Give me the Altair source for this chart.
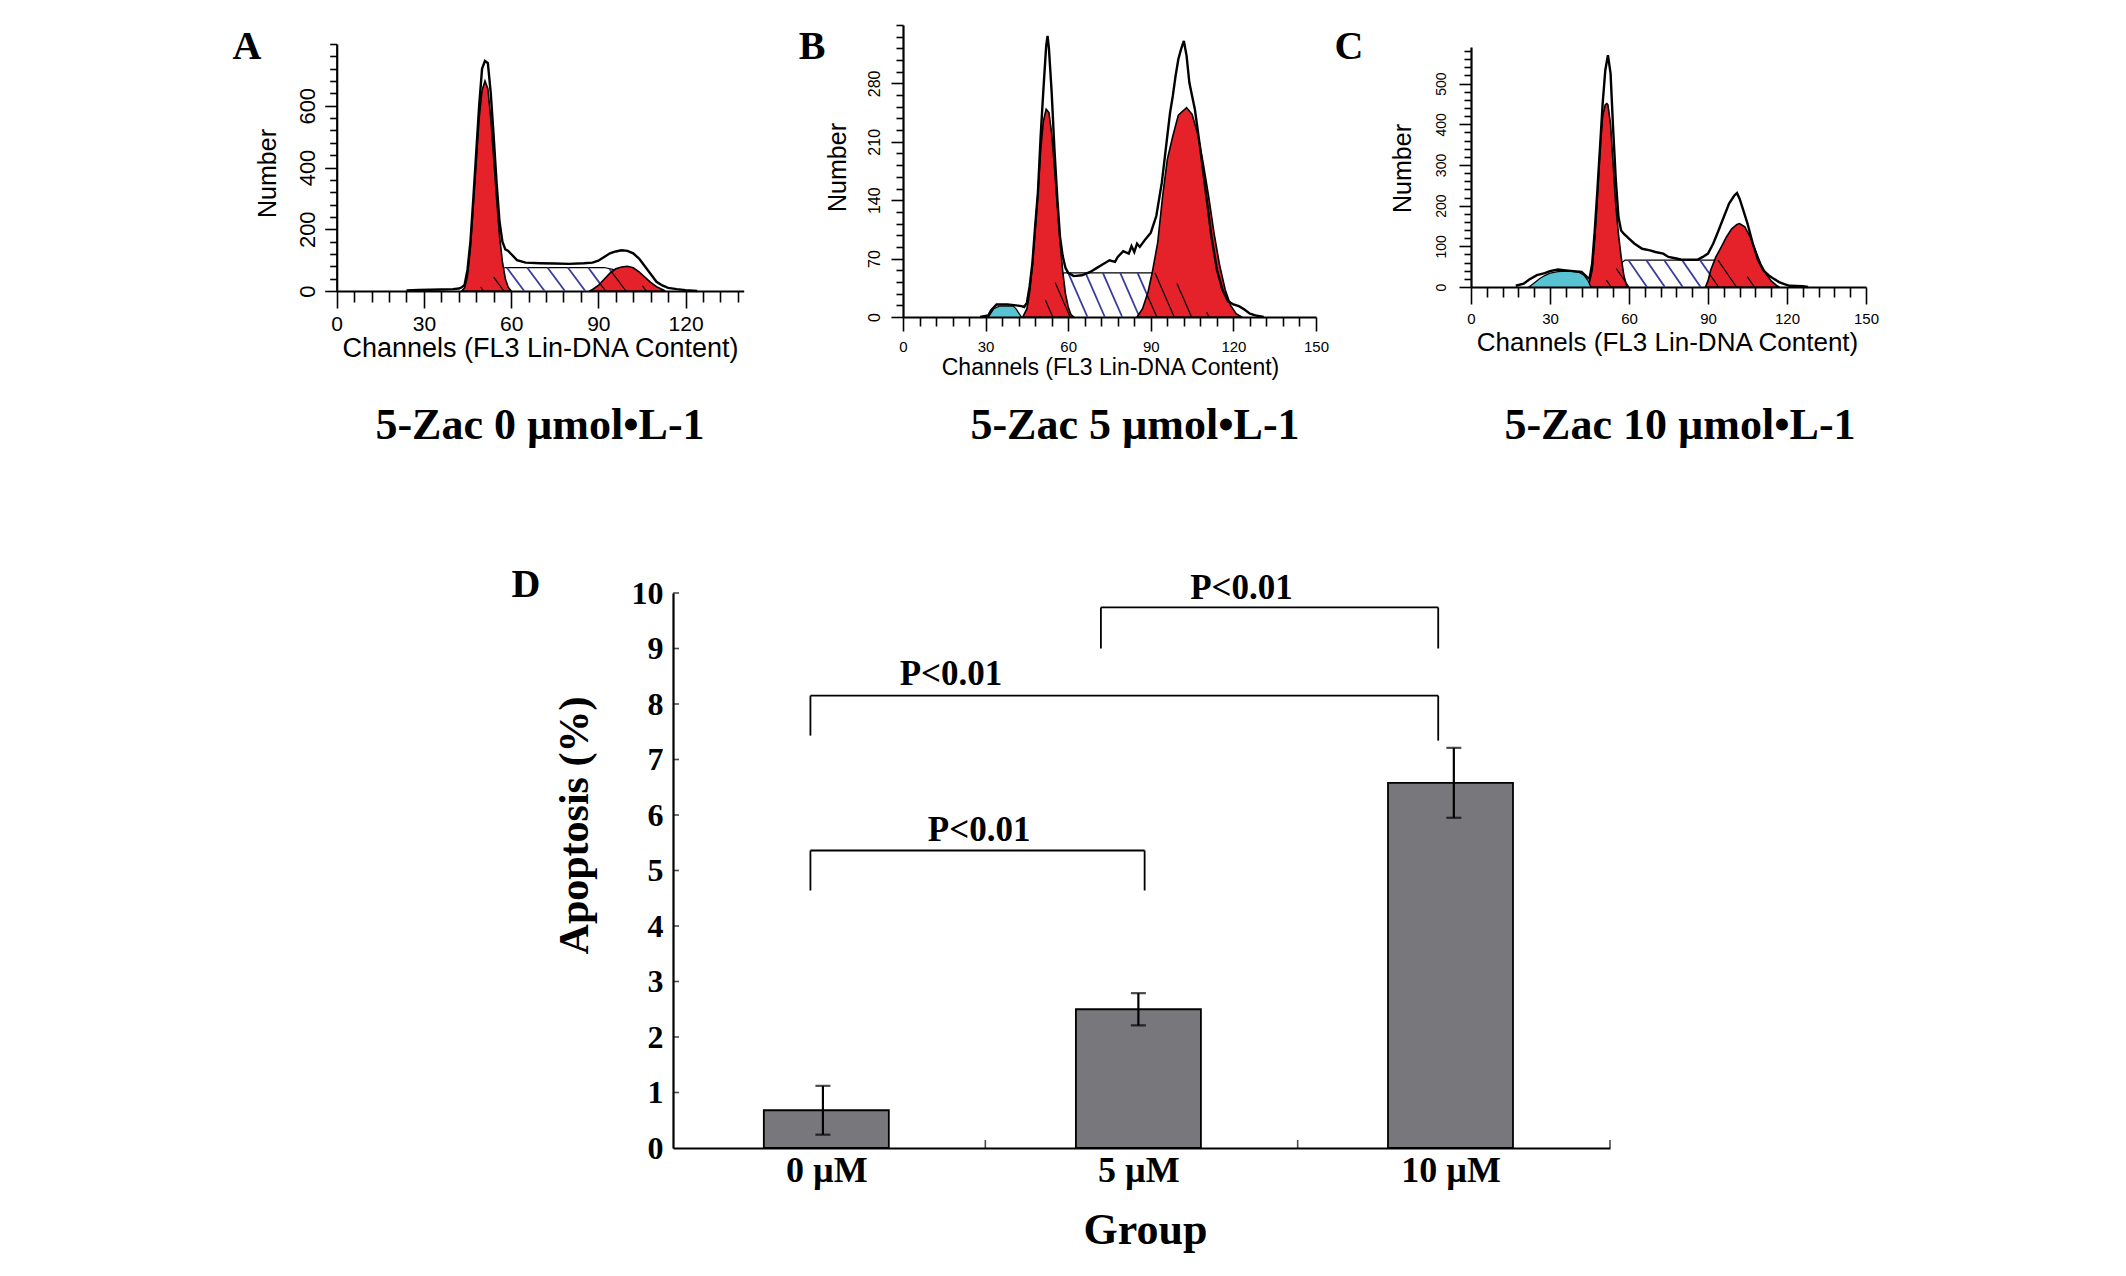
import json
import altair as alt
import pandas as pd

# ---------------- Panel A (5-Zac 0) ----------------
a_out_ch = [24, 28, 32, 36, 40, 42, 43, 44, 45, 46, 47, 48, 49, 50, 51, 52, 53, 54, 55, 56, 57, 58, 59, 60, 62, 65,
            70, 75, 80, 85, 88, 90, 92, 94, 96, 98, 100, 102, 104, 106, 108, 110, 112, 114, 117, 120, 124]
a_out_n = [2, 3, 4, 5, 6, 8, 12, 20, 70, 160, 300, 450, 600, 720, 745, 738, 640, 500, 350, 225, 160, 135, 130, 120,
           100, 92, 90, 89, 88, 90, 92, 98, 110, 122, 128, 132, 130, 122, 105, 80, 55, 30, 18, 10, 6, 3, 0]
a_g1_ch = [43, 44, 45, 46, 47, 48, 49, 50, 51, 52, 53, 54, 55, 56, 57, 58, 59, 60]
a_g1_n = [0, 10, 50, 140, 280, 420, 560, 650, 680, 655, 560, 430, 300, 180, 95, 40, 12, 0]
a_g2_ch = [87, 88, 90, 92, 94, 96, 98, 100, 102, 104, 106, 108, 110, 112, 113]
a_g2_n = [0, 5, 18, 38, 58, 72, 78, 80, 75, 62, 45, 28, 14, 5, 0]
a_s_ch = [46, 50, 54, 57, 58, 92, 95, 99, 104, 109]
a_s_n = [0, 15, 45, 72, 76, 76, 70, 50, 22, 0]
a_cy_ch = []
a_cy_n = []
a_blue = [(58.5, 76, 64.5, 0), (65.5, 76, 71.5, 0), (72.5, 76, 78.5, 0), (79.5, 76, 85.5, 0),
          (86.5, 76, 90.6, 24), (93.8, 72.4, 94.5, 63)]
a_black = [(49.5, 13, 50.5, 0), (54, 45, 57.5, 0), (90.6, 24, 92.5, 0), (94.5, 63, 99.5, 0), (105.2, 16.9, 106.5, 0)]

# ---------------- Panel B (5-Zac 5) ----------------
b_out_ch = [28, 31, 32, 34, 38, 41, 43, 44, 45, 46, 47, 48, 49, 50, 51, 52, 52.5, 53, 54, 55, 56, 57, 58, 59, 60, 62,
            65, 68, 70, 72, 75, 77, 78, 80, 82, 83, 84, 85, 86, 88, 90, 92, 94, 95, 96, 97, 98, 99, 100, 101, 102,
            103, 104, 105, 106, 108, 110, 112, 114, 116, 118, 120, 122, 124, 126, 128, 131]
b_out_n = [0, 2, 8, 15, 15, 14, 13, 12, 17, 37, 65, 109, 149, 217, 273, 325, 337, 322, 269, 201, 145, 97, 73, 59, 53,
           49, 50, 54, 58, 62, 68, 66, 72, 79, 76, 85, 78, 88, 84, 93, 101, 121, 161, 189, 217, 245, 265, 289, 309,
           321, 331, 313, 281, 265, 249, 201, 149, 97, 57, 33, 19, 15, 13, 9, 4, 2, 0]
b_g1_ch = [43.5, 45, 46, 47, 48, 49, 50, 51, 52, 53, 54, 55, 56, 57, 58, 59, 60, 61, 62]
b_g1_n = [0, 10, 30, 62, 105, 148, 200, 235, 249, 245, 220, 180, 135, 92, 55, 28, 12, 3, 0]
b_g2_ch = [85, 87, 89, 90.5, 92.5, 94.3, 96, 98, 100, 103, 105, 107, 109, 111, 113, 115, 117, 119, 121, 123]
b_g2_n = [0, 10, 30, 53, 89, 145, 189, 217, 242, 251, 243, 220, 185, 145, 100, 62, 33, 14, 4, 0]
b_s_ch = [47, 50, 53, 56, 58.5, 92, 95, 98, 103, 107.5, 111, 114]
b_s_n = [0, 10, 28, 45, 53, 53, 51, 45, 29, 13, 4, 0]
b_cy_ch = [31, 32, 33, 35, 40, 41, 42, 43]
b_cy_n = [0, 5, 10, 13, 13, 10, 5, 0]
b_blue = [(60, 53, 67, 0), (66.3, 53, 73.3, 0), (72.6, 53, 79.6, 0), (78.9, 53, 85.9, 0), (85.2, 53, 88.6, 27)]
b_black = [(51.7, 20.3, 54.4, 0), (55.3, 41, 60.7, 0), (88.6, 27, 92.2, 0), (91.5, 53, 98.5, 0),
           (99.5, 40.2, 104.8, 0), (110.3, 5.7, 111.1, 0)]

# ---------------- Panel C (5-Zac 10) ----------------
c_out_ch = [17, 20, 22, 25, 28, 30, 33, 36, 39, 42, 44, 45, 46, 47, 48, 49, 50, 51, 52, 53, 54, 55, 56, 57, 58, 60,
            62, 65, 68, 70, 73, 75, 78, 80, 83, 86, 88, 90, 92, 94, 96, 98, 100, 101, 102, 103, 105, 107, 109, 111,
            113, 115, 117, 119, 121, 126, 128]
c_out_n = [3, 8, 18, 29, 34, 39, 43, 41, 39, 37, 25, 20, 57, 139, 238, 344, 451, 533, 570, 525, 385, 262, 172, 139,
           131, 119, 107, 94, 90, 86, 82, 74, 70, 67, 67, 67, 74, 82, 107, 139, 172, 205, 225, 231, 217, 197, 156,
           107, 66, 41, 29, 20, 12, 7, 3, 2, 0]
c_g1_ch = [44.5, 46, 47, 48, 49, 50, 51, 51.6, 52, 53, 54, 55, 56, 57, 58, 59, 59.5]
c_g1_n = [0, 40, 120, 220, 340, 420, 448, 451, 448, 400, 300, 200, 130, 75, 30, 5, 0]
c_g2_ch = [89, 90, 91, 93, 95, 97, 99, 101, 102, 104, 106, 108, 110, 112, 114, 116, 117]
c_g2_n = [0, 15, 41, 74, 98, 123, 143, 154, 156, 148, 123, 90, 57, 33, 15, 4, 0]
c_s_ch = [48, 51, 54, 56.5, 58.5, 94.5, 97, 101, 105, 109, 113]
c_s_n = [0, 14, 36, 55, 66, 66, 60, 45, 25, 9, 0]
c_cy_ch = [22, 24, 26, 28, 30, 33, 36, 39, 41, 43, 44.5, 45.5]
c_cy_n = [0, 10, 20, 28, 34, 38, 39, 38, 36, 28, 15, 0]
c_blue = [(59.8, 66, 66.8, 0), (66.6, 66, 73.6, 0), (73.4, 66, 80.4, 0), (80.2, 66, 87.2, 0), (87, 66, 90.5, 33)]
c_black = [(51.4, 17, 53.2, 0), (55.2, 45.2, 60, 0), (90.5, 33, 94, 0), (93.8, 66, 100.8, 0), (104.9, 25.5, 107.6, 0)]

# ---------------- Panel D (bar chart) ----------------
groups = ["0 µM", "5 µM", "10 µM"]
group_pos = [0.48, 1.49, 2.50]
apoptosis = [0.68, 2.50, 6.58]
apoptosis_err = [0.44, 0.29, 0.63]
br_left = [0.44, 0.44, 1.37]
br_right = [1.51, 2.45, 2.45]
br_top = [5.36, 8.15, 9.74]
br_left_bottom = [4.64, 7.43, 9.0]
br_right_bottom = [4.64, 7.34, 9.0]
p_text = ["P<0.01", "P<0.01", "P<0.01"]
p_x = [0.98, 0.89, 1.82]
p_y = [5.73, 8.54, 10.09]

panel_titles = ["5-Zac 0 µmol•L-1", "5-Zac 5 µmol•L-1", "5-Zac 10 µmol•L-1"]
panel_letters = ["A", "B", "C", "D"]

W, H = 2110, 1260
RED = "#e5212a"
BLUE = "#3a3c9c"
CYAN = "#58c4d3"
SANS = "Liberation Sans"
SERIF = "Liberation Serif"


def seg_df(segs):
    return pd.DataFrame(segs, columns=["x1", "y1", "x2", "y2"])


def hist_layers(out_ch, out_n, g1_ch, g1_n, g2_ch, g2_n, s_ch, s_n, cy_ch, cy_n, blue, black, cfg):
    xaxis = alt.Axis(
        orient="bottom", offset=cfg["xaxis_y"] - H, values=cfg["xticks"], grid=False,
        labelExpr="datum.value % 30 === 0 ? datum.label : ''", labelOverlap=False, labelFlush=False,
        tickSize={"condition": {"test": "datum.value % 30 === 0", "value": cfg["xmaj"]}, "value": cfg["xmin"]},
        tickColor="black", tickWidth=1.6, domainColor="black", domainWidth=2.2,
        labelFont=SANS, labelFontSize=cfg["xlab"], labelColor="black", labelPadding=cfg["xpad"],
        labelBaseline="top",
        title="Channels (FL3 Lin-DNA Content)", titleFont=SANS, titleFontSize=cfg["xtitle"],
        titleFontWeight="normal", titleColor="black", titleBaseline="middle",
        titleX=cfg["xtitle_x"], titleY=cfg["xtitle_y"])
    ytest = "datum.value %% %d === 0 && datum.value <= %d" % (cfg["ystep"], cfg["ylabmax"])
    yaxis = alt.Axis(
        orient="left", offset=-cfg["xrange"][0], values=cfg["yticks"], grid=False,
        labelExpr="(%s) ? datum.label : ''" % ytest, labelOverlap=False,
        labelFlush=False, labelAngle=-90, labelAlign="center", labelBaseline="bottom",
        tickSize={"condition": {"test": ytest, "value": 12}, "value": 7},
        tickColor="black", tickWidth=1.6, domainColor="black", domainWidth=2.2,
        labelFont=SANS, labelFontSize=cfg["ylab"], labelColor="black", labelPadding=cfg["ypad"],
        title="Number", titleFont=SANS, titleFontSize=25, titleFontWeight="normal", titleColor="black",
        titleBaseline="middle", titleAlign="center", titleAngle=-90,
        titleX=cfg["ytitle_x"], titleY=cfg["ytitle_y"])

    def X(f, axis=None):
        return alt.X(f, type="quantitative", axis=axis,
                     scale=alt.Scale(domain=cfg["xdom"], range=cfg["xrange"], nice=False, zero=False))

    def Y(f, axis=None):
        return alt.Y(f, type="quantitative", axis=axis,
                     scale=alt.Scale(domain=cfg["ydom"], range=cfg["yrange"], nice=False, zero=False))

    layers = []
    s_df = pd.DataFrame({"ch": s_ch, "n": s_n})
    layers.append(alt.Chart(s_df).mark_area(fill="white", stroke="black", strokeWidth=1.2)
                  .encode(x=X("ch", xaxis), y=Y("n", yaxis)))
    layers.append(alt.Chart(seg_df(blue)).mark_rule(color=BLUE, strokeWidth=1.8)
                  .encode(x=X("x1"), y=Y("y1"), x2="x2", y2="y2"))
    for chs, ns in ((g1_ch, g1_n), (g2_ch, g2_n)):
        layers.append(alt.Chart(pd.DataFrame({"ch": chs, "n": ns}))
                      .mark_area(fill=RED, stroke="black", strokeWidth=1.6)
                      .encode(x=X("ch"), y=Y("n")))
    layers.append(alt.Chart(seg_df(black)).mark_rule(color="black", strokeWidth=1.2)
                  .encode(x=X("x1"), y=Y("y1"), x2="x2", y2="y2"))
    if cy_ch:
        layers.append(alt.Chart(pd.DataFrame({"ch": cy_ch, "n": cy_n}))
                      .mark_area(fill=CYAN, stroke="black", strokeWidth=1.2)
                      .encode(x=X("ch"), y=Y("n")))
    layers.append(alt.Chart(pd.DataFrame({"ch": out_ch, "n": out_n}))
                  .mark_line(color="black", strokeWidth=2.4)
                  .encode(x=X("ch"), y=Y("n")))
    return layers


cfg_a = dict(xdom=[0, 140], xrange=[328.7, 735.7], xaxis_y=283, ydom=[0, 800], yrange=[283, 36],
             xticks=list(range(0, 139, 6)) + [30, 60, 90, 120], yticks=list(range(0, 801, 40)), ystep=200,
             ylabmax=600, xmaj=17, xmin=11, xlab=21, xpad=5, xtitle=27, xtitle_x=532, xtitle_y=57,
             ylab=22, ypad=5, ytitle_x=-69, ytitle_y=165)
cfg_b = dict(xdom=[0, 150], xrange=[895, 1308], xaxis_y=309, ydom=[0, 350], yrange=[309, 17],
             xticks=list(range(0, 151, 6)) + [30, 60, 90, 120, 150], yticks=list(range(0, 351, 14)), ystep=70,
             ylabmax=280, xmaj=14, xmin=9, xlab=15, xpad=8, xtitle=23, xtitle_x=1102, xtitle_y=50,
             ylab=16, ypad=9, ytitle_x=-66, ytitle_y=159)
cfg_c = dict(xdom=[0, 150], xrange=[1463, 1858], xaxis_y=279, ydom=[0, 590], yrange=[279, 39],
             xticks=list(range(0, 151, 6)) + [30, 60, 90, 120, 150], yticks=list(range(0, 581, 20)), ystep=100,
             ylabmax=500, xmaj=17, xmin=10, xlab=15, xpad=7, xtitle=26, xtitle_x=1659, xtitle_y=55,
             ylab=14, ypad=11, ytitle_x=-69, ytitle_y=160)

for c in (cfg_a, cfg_b, cfg_c):
    c["xticks"] = sorted(set(c["xticks"]))

all_layers = []
all_layers += hist_layers(a_out_ch, a_out_n, a_g1_ch, a_g1_n, a_g2_ch, a_g2_n, a_s_ch, a_s_n, a_cy_ch, a_cy_n,
                          a_blue, a_black, cfg_a)
all_layers += hist_layers(b_out_ch, b_out_n, b_g1_ch, b_g1_n, b_g2_ch, b_g2_n, b_s_ch, b_s_n, b_cy_ch, b_cy_n,
                          b_blue, b_black, cfg_b)
all_layers += hist_layers(c_out_ch, c_out_n, c_g1_ch, c_g1_n, c_g2_ch, c_g2_n, c_s_ch, c_s_n, c_cy_ch, c_cy_n,
                          c_blue, c_black, cfg_c)


# ---------------- Panel D ----------------
def DX(f, axis=None):
    return alt.X(f, type="quantitative", axis=axis,
                 scale=alt.Scale(domain=[0, 3], range=[665, 1602], nice=False, zero=False))


def DY(f, axis=None):
    return alt.Y(f, type="quantitative", axis=axis,
                 scale=alt.Scale(domain=[0, 10], range=[1140, 585], nice=False, zero=False))


label_expr = "%s[floor(datum.value)]" % json.dumps(groups, ensure_ascii=False)
dxaxis = alt.Axis(orient="bottom", offset=1140 - H, values=group_pos, labelExpr=label_expr, ticks=False,
                  grid=False, domainColor="black", domainWidth=2.2, labelFont=SERIF, labelFontWeight="bold",
                  labelFontSize=36, labelColor="black", labelBaseline="middle", labelPadding=22,
                  labelOverlap=False, labelFlush=False,
                  title="Group", titleFont=SERIF, titleFontWeight="bold", titleFontSize=44, titleColor="black",
                  titleBaseline="middle", titleX=1137, titleY=82)
dyaxis = alt.Axis(orient="left", offset=-665, values=list(range(0, 11)), ticks=False, grid=False,
                  domainColor="black", domainWidth=2.2, labelFont=SERIF, labelFontWeight="bold", labelFontSize=32,
                  labelColor="black", labelBaseline="middle", labelAlign="right", labelPadding=10,
                  labelOverlap=False, labelFlush=False,
                  title="Apoptosis (%)", titleFont=SERIF, titleFontWeight="bold", titleFontSize=42,
                  titleColor="black", titleAngle=-90, titleAlign="center", titleBaseline="middle",
                  titleX=-99, titleY=817)

bar_df = pd.DataFrame({"group": groups, "pos": group_pos, "v": apoptosis, "e": apoptosis_err})
bar_df["lo"] = bar_df["v"] - bar_df["e"]
bar_df["hi"] = bar_df["v"] + bar_df["e"]

all_layers += [
    alt.Chart(bar_df).mark_bar(size=125, color="#78787c", stroke="black", strokeWidth=1.8)
    .encode(x=DX("pos", dxaxis), y=DY("v", dyaxis)),
    alt.Chart(bar_df).mark_rule(color="black", strokeWidth=2.2)
    .encode(x=DX("pos"), y=DY("lo"), y2="hi"),
    alt.Chart(bar_df).mark_tick(orient="horizontal", size=15, thickness=2.2, color="black")
    .encode(x=DX("pos"), y=DY("hi")),
    alt.Chart(bar_df).mark_tick(orient="horizontal", size=15, thickness=2.2, color="black")
    .encode(x=DX("pos"), y=DY("lo")),
]
br_df = pd.DataFrame({"l": br_left, "r": br_right, "t": br_top, "lb": br_left_bottom, "rb": br_right_bottom})
all_layers += [
    alt.Chart(br_df).mark_rule(color="black", strokeWidth=1.8).encode(x=DX("l"), x2="r", y=DY("t")),
    alt.Chart(br_df).mark_rule(color="black", strokeWidth=1.8).encode(x=DX("l"), y=DY("t"), y2="lb"),
    alt.Chart(br_df).mark_rule(color="black", strokeWidth=1.8).encode(x=DX("r"), y=DY("t"), y2="rb"),
]
p_df = pd.DataFrame({"t": p_text, "x": p_x, "y": p_y})
all_layers.append(
    alt.Chart(p_df).mark_text(font=SERIF, fontWeight="bold", fontSize=35, color="black", baseline="middle")
    .encode(x=DX("x"), y=DY("y"), text="t:N"))
# small inward ticks on the D axes
all_layers.append(
    alt.Chart(pd.DataFrame({"b": [1, 2, 3], "z": [0, 0, 0]}))
    .mark_tick(orient="vertical", size=8, thickness=1.6, color="black", yOffset=-4)
    .encode(x=DX("b"), y=DY("z")))
all_layers.append(
    alt.Chart(pd.DataFrame({"k": list(range(1, 11)), "z": [0] * 10}))
    .mark_tick(orient="horizontal", size=6, thickness=1.6, color="black", xOffset=3)
    .encode(x=DX("z"), y=DY("k")))

# ---------------- Text annotations ----------------
for t, (px, py) in zip(panel_titles, [(532, 418), (1127, 418), (1672, 418)]):
    all_layers.append(alt.Chart(pd.DataFrame({"t": [t]}))
                      .mark_text(font=SERIF, fontWeight="bold", fontSize=44, color="black", baseline="middle")
                      .encode(x=alt.value(px), y=alt.value(py), text="t:N"))
for t, (px, py) in zip(panel_letters, [(239, 39), (804, 39), (1341, 39), (518, 577)]):
    all_layers.append(alt.Chart(pd.DataFrame({"t": [t]}))
                      .mark_text(font=SERIF, fontWeight="bold", fontSize=40, color="black", baseline="middle")
                      .encode(x=alt.value(px), y=alt.value(py), text="t:N"))

chart = (alt.layer(*all_layers)
         .resolve_scale(x="independent", y="independent")
         .resolve_axis(x="independent", y="independent")
         .properties(width=W, height=H, autosize=alt.AutoSizeParams(type="none"), padding=0,
                     background="white")
         .configure_view(strokeWidth=0))

chart.save("out.html", embed_options={"renderer": "svg", "actions": False})
